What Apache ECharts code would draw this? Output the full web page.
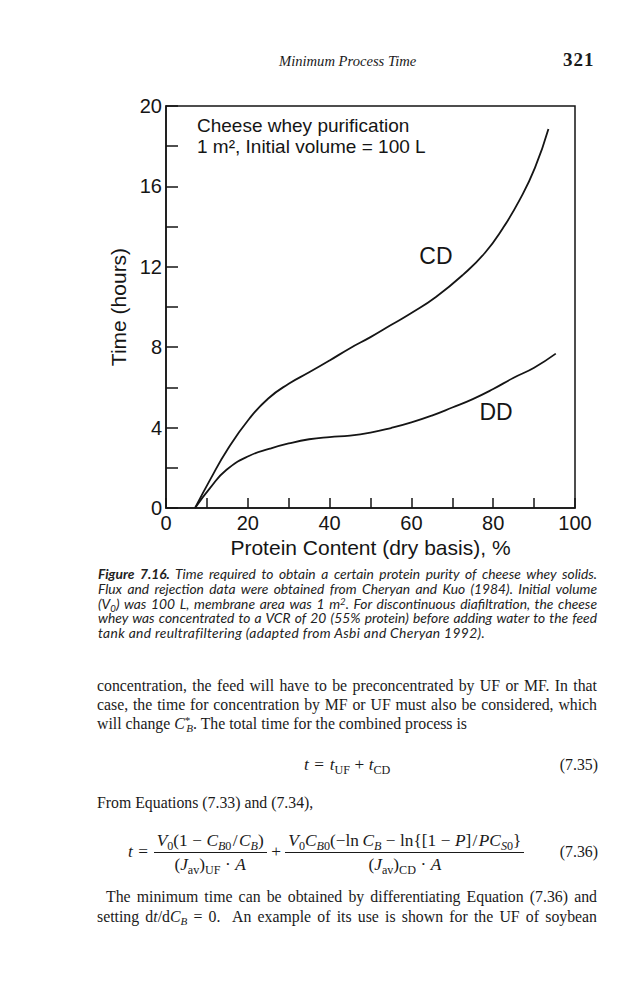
<!DOCTYPE html>
<html>
<head>
<meta charset="utf-8">
<script src="https://cdn.jsdelivr.net/npm/echarts@6/dist/echarts.min.js"></script>
<style>
  html, body { margin:0; padding:0; background:#fff; }
  body { width:635px; height:1000px; position:relative; overflow:hidden; }
  #chart { position:absolute; left:0; top:0; width:635px; height:1000px; }
  .t { position:absolute; z-index:2; white-space:nowrap; color:#1a1a1a; }
  .serif { font-family:"Liberation Serif","Times New Roman",serif; font-size:15.8px; line-height:20px; }
  .cap { font-family:"Lato","Liberation Sans",sans-serif; font-style:italic; font-size:13.8px; line-height:15px; color:#222; }
  .just { text-align:justify; text-align-last:justify; }
  sub, sup { font-size:0.7em; line-height:0; }
  sub { vertical-align:-0.3em; }
  sup { vertical-align:0.45em; }
  .eq { font-size:17.3px; }
  .frac { display:inline-flex; flex-direction:column; align-items:center; vertical-align:middle; }
  .frac .num { border-bottom:1px solid #1a1a1a; padding:0 3px 1px 3px; line-height:21px; }
  .frac .den { padding-top:1px; line-height:21px; }
  .bin { margin:0 0.26em; }
  .rel { margin:0 0.32em; }
  .sl { margin:0 0.08em; }
</style>
</head>
<body>
<div id="chart"></div>

<div class="t serif" style="left:279px; top:51px; font-style:italic; font-size:14.6px;">Minimum Process Time</div>
<div class="t serif" style="left:563px; top:50px; font-weight:bold; font-size:19px; letter-spacing:1px;">321</div>

<div class="t cap just" style="left:98px; top:566px; width:499px;"><b>Figure 7.16.</b> Time required to obtain a certain protein purity of cheese whey solids.</div>
<div class="t cap just" style="left:98px; top:581px; width:499px;">Flux and rejection data were obtained from Cheryan and Kuo (1984). Initial volume</div>
<div class="t cap just" style="left:98px; top:596px; width:499px;">(<i>V</i><sub>0</sub>) was 100 L, membrane area was 1 m<sup>2</sup>. For discontinuous diafiltration, the cheese</div>
<div class="t cap just" style="left:98px; top:610px; width:499px;">whey was concentrated to a VCR of 20 (55% protein) before adding water to the feed</div>
<div class="t cap" style="left:98px; top:625px; letter-spacing:0.35px;">tank and reultrafiltering (adapted from Asbi and Cheryan 1992).</div>

<div class="t serif just" style="left:97px; top:676px; width:500px;">concentration, the feed will have to be preconcentrated by UF or MF. In that</div>
<div class="t serif just" style="left:97px; top:695px; width:500px;">case, the time for concentration by MF or UF must also be considered, which</div>
<div class="t serif" style="left:97px; top:714px;">will change <i>C</i><sup>*</sup><sub style="margin-left:-0.36em"><i>B</i></sub>. The total time for the combined process is</div>

<div class="t serif eq" style="left:304px; top:755px;"><i>t</i><span class="rel">=</span><i>t</i><sub>UF</sub><span class="bin">+</span><i>t</i><sub>CD</sub></div>
<div class="t serif" style="right:37px; top:755px;">(7.35)</div>

<div class="t serif" style="left:97px; top:793px;">From Equations (7.33) and (7.34),</div>

<div class="t serif eq" style="left:128px; top:830px; display:flex; align-items:center; height:44px;">
  <span><i>t</i><span class="rel">=</span></span>
  <span class="frac"><span class="num"><i>V</i><sub>0</sub>(1<span class="bin">−</span><i>C</i><sub><i>B</i>0</sub><span class="sl">/</span><i>C</i><sub><i>B</i></sub>)</span><span class="den">(<i>J</i><sub>av</sub>)<sub>UF</sub><span class="bin">·</span><i>A</i></span></span>
  <span class="bin">+</span>
  <span class="frac"><span class="num"><i>V</i><sub>0</sub><i>C</i><sub><i>B</i>0</sub>(−ln&thinsp;<i>C</i><sub><i>B</i></sub><span class="bin">−</span>ln{[1<span class="bin">−</span><i>P</i>]<span class="sl">/</span><i>PC</i><sub><i>S</i>0</sub>}</span><span class="den">(<i>J</i><sub>av</sub>)<sub>CD</sub><span class="bin">·</span><i>A</i></span></span>
</div>
<div class="t serif" style="right:37px; top:842px;">(7.36)</div>

<div class="t serif just" style="left:106px; top:887px; width:491px;">The minimum time can be obtained by differentiating Equation (7.36) and</div>
<div class="t serif just" style="left:97px; top:907px; width:500px;">setting d<i>t</i>/d<i>C</i><sub><i>B</i></sub> = 0.&nbsp; An example of its use is shown for the UF of soybean</div>

<script>
// ---- data ----
const proteinCD = [7.1, 10.8, 15, 20.4, 25, 30, 35, 40, 45, 50, 55, 60, 66, 72.6, 78, 82.4, 86.5, 90.2, 93.5];
const timeCD    = [0, 1.41, 2.9, 4.45, 5.45, 6.18, 6.75, 7.34, 7.95, 8.5, 9.1, 9.7, 10.5, 11.6, 12.7, 13.93, 15.34, 16.92, 18.86];
const proteinDD = [7.1, 10.8, 14.8, 20.4, 25.4, 30, 35, 40, 45, 50, 55, 60, 65, 70, 75, 80, 85, 90, 95.3];
const timeDD    = [0, 1.0, 1.9, 2.6, 2.95, 3.21, 3.42, 3.53, 3.6, 3.75, 3.98, 4.26, 4.6, 5.0, 5.42, 5.92, 6.48, 6.98, 7.68];
const seriesNames = ['CD', 'DD'];
const xTickLabels = [0, 20, 40, 60, 80, 100];
const yTickLabels = [0, 4, 8, 12, 16, 20];
const noteLines = ['Cheese whey purification', '1 m², Initial volume = 100 L'];

const ink = '#151515';
const font = '"Liberation Sans", Arial, sans-serif';
const pairs = (xs, ys) => xs.map((x, i) => [x, ys[i]]);

const chart = echarts.init(document.getElementById('chart'), null, {renderer: 'svg'});
chart.setOption({
  animation: false,
  grid: {left: 166, top: 106, width: 409, height: 402, show: true, borderColor: ink, borderWidth: 1.5, backgroundColor: 'transparent'},
  title: {
    text: noteLines.join('\n'), left: 192, top: 110,
    textStyle: {fontFamily: font, fontSize: 19, fontWeight: 'normal', color: ink, lineHeight: 21}
  },
  xAxis: {
    type: 'value', min: 0, max: 100, interval: 10,
    axisLine: {show: true, lineStyle: {color: ink, width: 1.5}},
    axisTick: {show: true, inside: true, length: 10, lineStyle: {color: ink, width: 1.5}},
    splitLine: {show: false},
    axisLabel: {fontFamily: font, fontSize: 20, color: ink, margin: 5,
      formatter: v => xTickLabels.includes(v) ? String(v) : ''},
    name: 'Protein Content (dry basis), %', nameLocation: 'middle', nameGap: 29,
    nameTextStyle: {fontFamily: font, fontSize: 21, color: ink}
  },
  yAxis: {
    type: 'value', min: 0, max: 20, interval: 2,
    axisLine: {show: true, lineStyle: {color: ink, width: 1.5}},
    axisTick: {show: true, inside: true, length: 12, lineStyle: {color: ink, width: 1.5}},
    splitLine: {show: false},
    axisLabel: {fontFamily: font, fontSize: 20, color: ink, margin: 4,
      formatter: v => yTickLabels.includes(v) ? String(v) : ''},
    name: 'Time (hours)', nameLocation: 'middle', nameGap: 37, nameRotate: 90,
    nameTextStyle: {fontFamily: font, fontSize: 21, color: ink}
  },
  series: [
    {
      name: seriesNames[0], type: 'line', smooth: 0.5, showSymbol: false,
      data: pairs(proteinCD, timeCD),
      lineStyle: {color: ink, width: 1.8},
      markPoint: {symbol: 'circle', symbolSize: 0,
        label: {show: true, formatter: seriesNames[0], fontFamily: font, fontSize: 23, color: ink},
        data: [{coord: [66, 12.55]}]}
    },
    {
      name: seriesNames[1], type: 'line', smooth: 0.5, showSymbol: false,
      data: pairs(proteinDD, timeDD),
      lineStyle: {color: ink, width: 1.8},
      markPoint: {symbol: 'circle', symbolSize: 0,
        label: {show: true, formatter: seriesNames[1], fontFamily: font, fontSize: 23, color: ink},
        data: [{coord: [80.7, 4.8]}]}
    }
  ]
});
</script>
</body>
</html>
